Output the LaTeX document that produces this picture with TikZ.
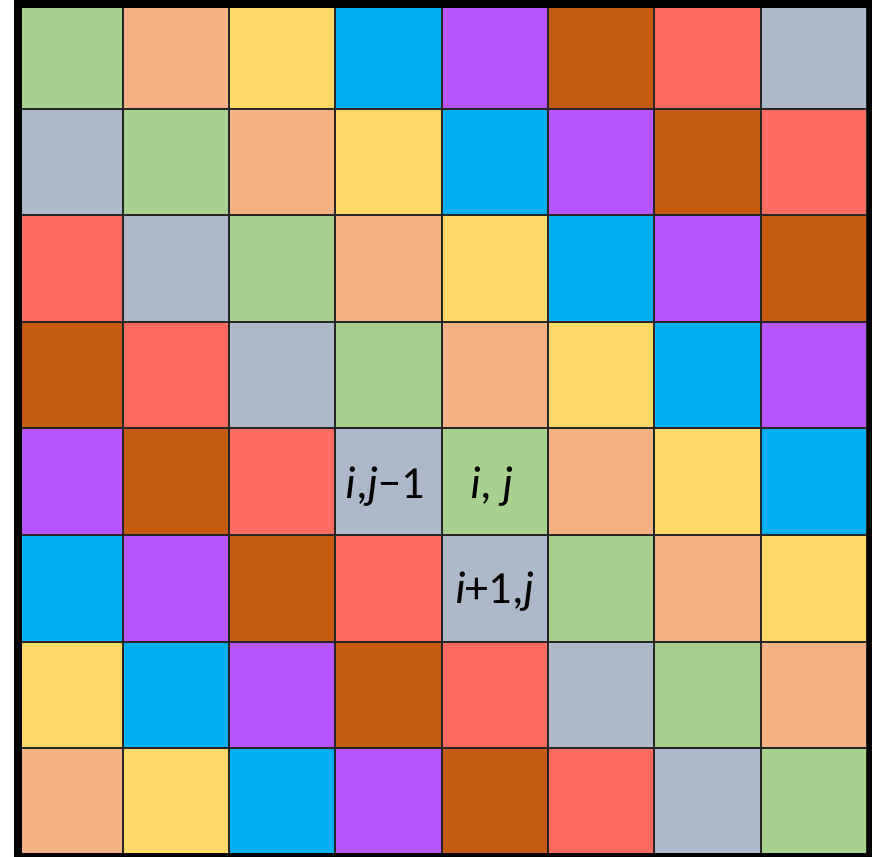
\documentclass[tikz,border=0pt]{standalone}
\usepackage{fontspec}
\setmainfont{Carlito}
\definecolor{cG}{HTML}{A9D18E}
\definecolor{cP}{HTML}{F4B183}
\definecolor{cY}{HTML}{FFD966}
\definecolor{cB}{HTML}{00B0F0}
\definecolor{cU}{HTML}{B755FF}
\definecolor{cW}{HTML}{C55A11}
\definecolor{cR}{HTML}{FF6B5E}
\definecolor{cA}{HTML}{ADB9CA}
\tikzset{
  cellbox/.style={draw=black!85, line width=2pt},
  lbl/.style={font=\fontsize{46}{50}\selectfont, inner sep=0pt},
  frame/.style={draw=black, line width=8pt}
}
\begin{document}
\begin{tikzpicture}[x=1pt,y=-1pt]
\useasboundingbox (0,0) rectangle (872,856);
\def\xo{16.5}\def\dx{106.3}\def\yo{2}\def\dy{106.6}
\foreach \r in {0,...,7}{
  \foreach \c in {0,...,7}{
    \pgfmathtruncatemacro{\k}{mod(\c-\r+8,8)}
    \ifcase\k \def\col{cG}\or \def\col{cP}\or \def\col{cY}\or \def\col{cB}\or \def\col{cU}\or \def\col{cW}\or \def\col{cR}\or \def\col{cA}\fi
    \path[cellbox, fill=\col] ({\xo+\c*\dx},{\yo+\r*\dy}) rectangle ({\xo+(\c+1)*\dx},{\yo+(\r+1)*\dy});
  }
}
\node[lbl] (a) at ({\xo+3.5*\dx-3},{\yo+4.5*\dy+5}) {\textit{i},\textit{j}\char"2212 1};
\node[lbl] (b) at ({\xo+4.5*\dx-3},{\yo+4.5*\dy+5}) {\textit{i}, \textit{j}};
\node[lbl] (c) at ({\xo+4.5*\dx},{\yo+5.5*\dy+3}) {\textit{i}+1,\textit{j}};
\draw[frame] (18,4) rectangle (870.7,856.7);
\end{tikzpicture}
\end{document}
